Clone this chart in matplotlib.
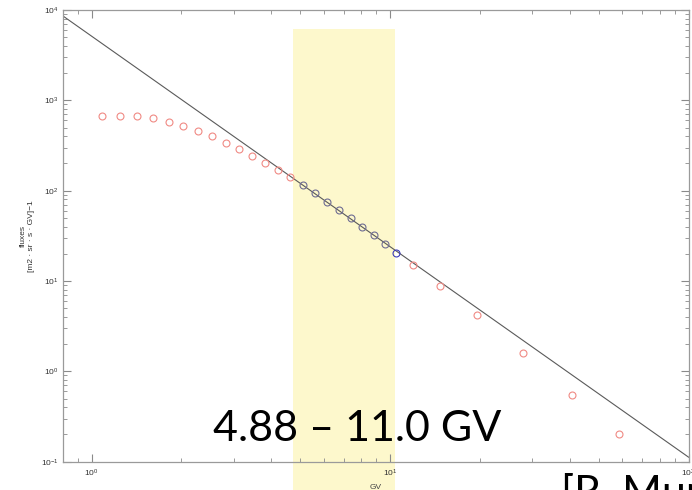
import matplotlib
matplotlib.use("Agg")
import matplotlib.pyplot as plt
import numpy as np
from matplotlib.ticker import LogLocator, NullFormatter

# Rigidity (GV) and flux values
rig_low = [1.08, 1.245, 1.415, 1.605, 1.815, 2.026, 2.27, 2.53, 2.816, 3.119,
           3.458, 3.822, 4.211, 4.634]
flux_low = [664, 664, 664, 636, 580, 524, 461, 398, 341, 290, 245, 205, 171, 141]

rig_fit = [5.105, 5.617, 6.16, 6.757, 7.39, 8.08, 8.85, 9.63]
flux_fit = [114.5, 93.3, 75.5, 61.1, 49.3, 39.8, 32.4, 25.9]

rig_edge = [10.5]
flux_edge = [20.6]

rig_high = [11.95, 14.7, 19.54, 27.9, 40.6, 58.5]
flux_high = [15.1, 8.8, 4.16, 1.585, 0.551, 0.2]

# power-law fit: flux = norm * R^-gamma
fit_norm = 5130.0
fit_gamma = 2.33

band_lo, band_hi = 4.72, 10.4
range_text = "4.88 \u2013 11.0 GV"

plt.rcParams["font.family"] = ["Liberation Sans", "DejaVu Sans"]

fig = plt.figure(figsize=(6.92, 4.90), dpi=100)
ax = fig.add_axes([0.0906, 0.0578, 0.9044, 0.9218])
ax.set_xscale("log")
ax.set_yscale("log")
ax.set_xlim(0.8, 100)
ax.set_ylim(0.1, 1e4)

# highlighted rigidity window, runs off the bottom of the axes
ax.axvspan(band_lo, band_hi, ymin=-0.08, ymax=0.958, color="#fdf8cc",
           zorder=0, clip_on=False, lw=0)

xs = np.logspace(np.log10(0.8), 2, 200)
ax.plot(xs, fit_norm * xs ** -fit_gamma, color="#5a5a5a", lw=0.8, zorder=2)

mk = dict(ls="none", marker="o", ms=5, mfc="none", mew=0.8, zorder=3)
ax.plot(rig_low, flux_low, mec="#f08a84", **mk)
ax.plot(rig_high, flux_high, mec="#f08a84", **mk)
ax.plot(rig_fit, flux_fit, mec="#6e6c92", **mk)
ax.plot(rig_edge, flux_edge, mec="#3a3ab8", **mk)

for s in ax.spines.values():
    s.set_color("#9a9a9a")
    s.set_linewidth(0.9)

ax.xaxis.set_major_locator(LogLocator(base=10, numticks=10))
ax.xaxis.set_minor_locator(LogLocator(base=10, subs=np.arange(2, 10), numticks=20))
ax.yaxis.set_minor_locator(LogLocator(base=10, subs=np.arange(2, 10), numticks=20))
ax.xaxis.set_minor_formatter(NullFormatter())
ax.yaxis.set_minor_formatter(NullFormatter())
ax.tick_params(which="both", direction="in", top=True, right=True,
               color="#8a8a8a", labelsize=6, labelcolor="#333333")
ax.tick_params(which="major", length=6, width=0.8, pad=4)
ax.tick_params(which="minor", length=3, width=0.6)
ax.tick_params(axis="y", which="major", pad=3)

ax.set_xlabel("GV", fontsize=6, color="#444444", labelpad=4)
ax.set_ylabel("fluxes\n[m2 \u00b7 sr \u00b7 s \u00b7 GV]\u22121", fontsize=6,
              color="#333333", labelpad=4)

fig.text(0.5155, 0.1, range_text, fontsize=31, family=["Lato", "DejaVu Sans"],
         ha="center", va="baseline", color="black", zorder=5)
fig.text(0.81, -0.033, "[R. Munini]", fontsize=31,
         family=["Lato", "DejaVu Sans"], ha="left", va="baseline", color="black")

fig.savefig("out.png", dpi=100)
